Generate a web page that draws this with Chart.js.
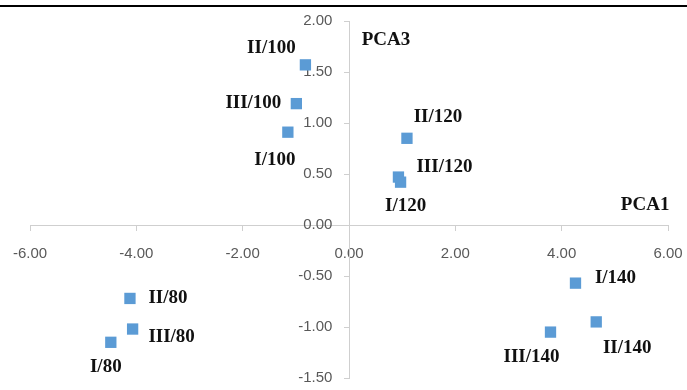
<!DOCTYPE html>
<html>
<head>
<meta charset="utf-8">
<script src="https://cdn.jsdelivr.net/npm/chart.js@4/dist/chart.umd.min.js"></script>
<style>
  html, body { margin: 0; padding: 0; background: #ffffff; }
  #wrap { width: 687px; height: 390px; position: relative; }
</style>
</head>
<body>
<div id="wrap"><canvas id="pca"></canvas></div>
<script>
// Sample names and their scores on the two principal components
const sampleNames = ['II/100', 'III/100', 'I/100', 'II/120', 'III/120', 'I/120',
                     'I/140', 'II/140', 'III/140', 'II/80', 'III/80', 'I/80'];
const pca1Scores = [-0.82, -0.99, -1.15, 1.09, 0.93, 0.97, 4.26, 4.65, 3.79, -4.12, -4.07, -4.48];
const pca3Scores = [1.57, 1.19, 0.91, 0.85, 0.47, 0.42, -0.57, -0.95, -1.05, -0.72, -1.02, -1.15];
const xTickValues = [-6, -4, -2, 0, 2, 4, 6];
const yTickValues = [-1.5, -1, -0.5, 0, 0.5, 1, 1.5, 2];
const axisTitles = { x: 'PCA1', y: 'PCA3' };

// Label placement around each marker (pixel offsets of the label centre)
const labelOffsets = [[-34, -17], [-43, -1], [-13, 28], [31, -21], [46, -10], [5, 24],
                      [40, -5], [31, 26], [-19, 25], [38, 0], [39, 8], [-5, 25]];

const points = sampleNames.map((n, i) => ({ x: pca1Scores[i], y: pca3Scores[i] }));

const labelFont = 'bold 19px "Liberation Serif", "Times New Roman", serif';

const pointLabels = {
  id: 'pointLabels',
  afterDatasetsDraw(chart) {
    const { ctx } = chart;
    const meta = chart.getDatasetMeta(0);
    ctx.save();
    ctx.font = labelFont;
    ctx.fillStyle = '#111111';
    ctx.textAlign = 'center';
    ctx.textBaseline = 'middle';
    meta.data.forEach((el, i) => {
      const [dx, dy] = labelOffsets[i];
      ctx.fillText(sampleNames[i], el.x + dx, el.y + dy);
    });
    // axis titles sit inside the plot near the axis ends
    const xs = chart.scales.x, ys = chart.scales.y;
    ctx.fillText(axisTitles.y, xs.getPixelForValue(0) + 37, ys.getPixelForValue(1.81));
    ctx.fillText(axisTitles.x, xs.getPixelForValue(5.57), ys.getPixelForValue(0) - 20);
    ctx.restore();
  }
};

const frameLine = {
  id: 'frameLine',
  beforeDraw(chart) {
    const { ctx, width } = chart;
    ctx.save();
    ctx.fillStyle = '#ffffff';
    ctx.fillRect(0, 0, width, chart.height);
    ctx.strokeStyle = '#000000';
    ctx.lineWidth = 2;
    ctx.beginPath();
    ctx.moveTo(0, 6);
    ctx.lineTo(width, 6);
    ctx.stroke();
    ctx.restore();
  }
};

const tickFamily = '"Liberation Sans", Arial, sans-serif';

new Chart(document.getElementById('pca'), {
  type: 'scatter',
  data: {
    datasets: [{
      data: points,
      pointStyle: 'rect',
      pointRadius: 8,
      pointHoverRadius: 8,
      backgroundColor: '#5b9bd5',
      borderColor: '#5b9bd5',
      borderWidth: 0
    }]
  },
  options: {
    responsive: true,
    maintainAspectRatio: false,
    animation: false,
    events: [],
    layout: { padding: { left: 30, right: 19, top: 21, bottom: 12 } },
    plugins: { legend: { display: false }, tooltip: { enabled: false } },
    scales: {
      x: {
        type: 'linear',
        position: { y: 0 },
        min: -6, max: 6,
        afterBuildTicks(scale) { scale.ticks = xTickValues.map(v => ({ value: v })); },
        ticks: {
          color: '#595959',
          // tall line box drops the labels below the axis without widening side padding
          font: { family: tickFamily, size: 15, lineHeight: 3.2 },
          padding: 0,
          maxRotation: 0,
          callback: v => v.toFixed(2)
        },
        grid: { drawOnChartArea: false, drawTicks: true, tickLength: 5, color: '#cfcfcf' },
        border: { display: true, color: '#cfcfcf', width: 1 }
      },
      y: {
        type: 'linear',
        position: { x: 0 },
        min: -1.5, max: 2,
        afterBuildTicks(scale) { scale.ticks = yTickValues.map(v => ({ value: v })); },
        ticks: {
          color: '#595959',
          font: { family: tickFamily, size: 15 },
          padding: 0,
          // centred axis draws labels flush with the line; trailing spaces keep a gap
          callback: v => v.toFixed(2) + '    '
        },
        grid: { drawOnChartArea: false, drawTicks: true, tickLength: 5, color: '#cfcfcf' },
        border: { display: true, color: '#cfcfcf', width: 1 }
      }
    }
  },
  plugins: [frameLine, pointLabels]
});
</script>
</body>
</html>
